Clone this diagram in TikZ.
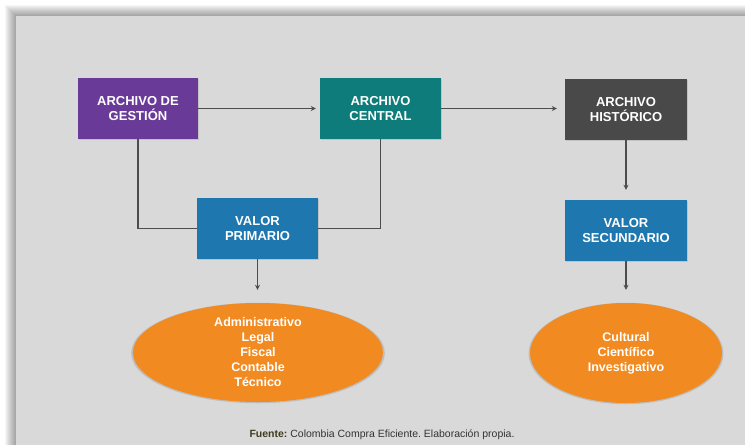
\documentclass[tikz,border=0pt]{standalone}
\usepackage{fontspec}
\setmainfont{Liberation Sans}
\usetikzlibrary{arrows.meta,shapes.geometric,shadows}
\frenchspacing

\definecolor{fondo}{HTML}{D9D9D9}
\definecolor{morado}{HTML}{6A3A99}
\definecolor{verdeazul}{HTML}{0E7C7B}
\definecolor{grisosc}{HTML}{4A4949}
\definecolor{azulvalor}{HTML}{1E77AE}
\definecolor{naranja}{HTML}{F18A20}
\definecolor{linea}{HTML}{4D4D4D}
\definecolor{fuente}{HTML}{3D3D1F}

\tikzset{
  caja/.style={rectangle, minimum width=121pt, minimum height=61pt,
    inner sep=0pt, align=center, text=white,
    font=\fontsize{13}{15.5}\selectfont\bfseries,
    drop shadow={shadow xshift=0.8pt, shadow yshift=-0.8pt, opacity=0.25}},
  elipse/.style={ellipse, fill=naranja, inner sep=0pt, align=center,
    text=white, font=\fontsize{12.5}{15}\selectfont\bfseries,
    drop shadow={shadow xshift=0pt, shadow yshift=-0.5pt, shadow scale=1.015, opacity=0.3}},
  flecha/.style={draw=linea, line width=1.8pt, -{Stealth[length=5pt,width=5pt]}},
  enlace/.style={draw=linea, line width=1.8pt},
}

\begin{document}
\begin{tikzpicture}[x=1pt,y=-1pt]
  \useasboundingbox (0,0) rectangle (745,445);
  \fill[white] (0,0) rectangle (745,445);
  % Sombra del panel
  \foreach \i in {1,...,11}
    \fill[black, opacity=0.035] (16-\i,16-\i) rectangle (745,445);
  \fill[fondo] (16,16) rectangle (745,445);

  % Archivos
  \node[caja, fill=morado, minimum width=120pt] (gestion) at (138,108.5) {ARCHIVO DE\\GESTIÓN};
  \node[caja, fill=verdeazul] (central) at (380.5,108.5) {ARCHIVO\\CENTRAL};
  \node[caja, fill=grisosc, minimum width=122pt] (historico) at (626,109.5) {ARCHIVO\\HISTÓRICO};
  % Valores
  \node[caja, fill=azulvalor] (primario) at (257.5,228.5) {VALOR\\PRIMARIO};
  \node[caja, fill=azulvalor, minimum width=122pt] (secundario) at (626,230.5) {VALOR\\SECUNDARIO};
  % Elipses
  \node[elipse, minimum width=250pt, minimum height=99pt] (usosP) at (258,352.5)
    {Administrativo\\Legal\\Fiscal\\Contable\\Técnico};
  \node[elipse, minimum width=192pt, minimum height=100pt] (usosS) at (626,353)
    {Cultural\\Científico\\Investigativo};

  % Conexiones
  \draw[flecha, shorten >=4pt] (gestion) -- (central);
  \draw[flecha, shorten >=8pt] (central.east) -- (central.east -| historico.west);
  \draw[flecha, shorten >=10pt] (historico) -- (secundario);
  \draw[enlace] (gestion.south) |- (primario.west);
  \draw[enlace] (central.south) |- (primario.east);
  \draw[flecha, shorten >=13pt] (primario.south) -- (primario.south |- usosP.north);
  \draw[flecha, shorten >=13pt] (secundario.south) -- (usosS.north);

  % Fuente
  \node[font=\fontsize{10.5}{12}\selectfont, text=black!80, inner sep=0pt] (nota) at (382,435)
    {\textcolor{fuente}{\textbf{Fuente:}} Colombia Compra Eficiente. Elaboración propia.};
\end{tikzpicture}
\end{document}
